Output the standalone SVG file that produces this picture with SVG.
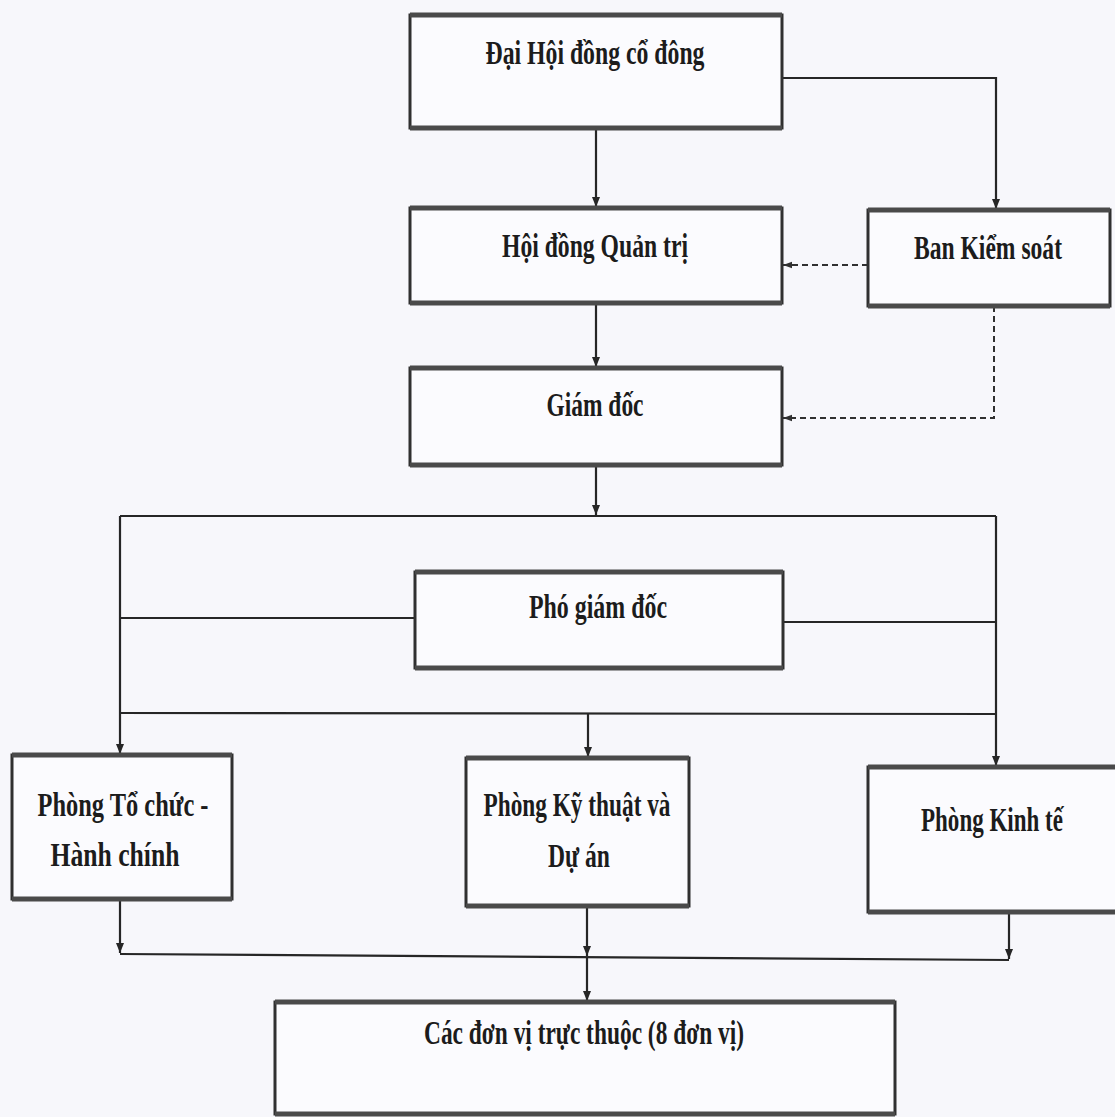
<svg xmlns="http://www.w3.org/2000/svg" width="1115" height="1117" viewBox="0 0 1115 1117">
<defs>
<style>
.box{fill:#fbfbfe;stroke:#303030;stroke-width:3}
.edge{stroke:#4a4a4a;stroke-width:5;fill:none}
.lbl{font-family:"Liberation Serif","Times New Roman",serif;font-weight:bold;font-size:33px;fill:#1c1c1c;text-anchor:middle}
.ln{fill:none;stroke:#262626;stroke-width:2.2}
.dash{fill:none;stroke:#303030;stroke-width:2;stroke-dasharray:6 4}
</style>
<marker id="arr" viewBox="0 0 10 10" refX="10" refY="5" markerWidth="10" markerHeight="10" markerUnits="userSpaceOnUse" orient="auto">
<path d="M0,1 L10,5 L0,9 Z" fill="#262626"/>
</marker>
<marker id="arrd" viewBox="0 0 10 10" refX="10" refY="5" markerWidth="9" markerHeight="9" markerUnits="userSpaceOnUse" orient="auto">
<path d="M0,1.5 L10,5 L0,8.5 Z" fill="#303030"/>
</marker>
</defs>
<rect width="1115" height="1117" fill="#f7f7fb"/>

<g id="connectors">
<path class="ln" d="M596,128 V207" marker-end="url(#arr)"/>
<path class="ln" d="M782,78 H996 V209" marker-end="url(#arr)"/>
<path class="dash" d="M868,265 H783" marker-end="url(#arrd)"/>
<path class="ln" d="M596,303 V367" marker-end="url(#arr)"/>
<path class="dash" d="M994,306 V418 H783" marker-end="url(#arrd)"/>
<path class="ln" d="M596,465 V515" marker-end="url(#arr)"/>
<path class="ln" d="M120,516 H996"/>
<path class="ln" d="M120,516 V754" marker-end="url(#arr)"/>
<path class="ln" d="M996,516 V766" marker-end="url(#arr)"/>
<path class="ln" d="M120,618 H415"/>
<path class="ln" d="M783,622 H996"/>
<path class="ln" d="M120,713 L996,714"/>
<path class="ln" d="M588,714 V757" marker-end="url(#arr)"/>
<path class="ln" d="M120,899 V953" marker-end="url(#arr)"/>
<path class="ln" d="M587,906 V956" marker-end="url(#arr)"/>
<path class="ln" d="M587,957 V1001" marker-end="url(#arr)"/>
<path class="ln" d="M1009,912 V959" marker-end="url(#arr)"/>
<path class="ln" d="M120,954 L1009,960"/>
</g>

<g id="node-dhdcd">
<rect class="box" x="410" y="15" width="372" height="113"/>
<path class="edge" d="M410,15 H782 M410,128 H782"/>
<text class="lbl" x="595" y="64" textLength="219" lengthAdjust="spacingAndGlyphs">Đại Hội đồng cổ đông</text>
</g>

<g id="node-hdqt">
<rect class="box" x="410" y="208" width="372" height="95"/>
<path class="edge" d="M410,208 H782 M410,303 H782"/>
<text class="lbl" x="595" y="257" textLength="186" lengthAdjust="spacingAndGlyphs">Hội đồng Quản trị</text>
</g>

<g id="node-bks">
<rect class="box" x="868" y="210" width="242" height="96"/>
<path class="edge" d="M868,210 H1110 M868,306 H1110"/>
<text class="lbl" x="988" y="259" textLength="148" lengthAdjust="spacingAndGlyphs">Ban Kiểm soát</text>
</g>

<g id="node-gd">
<rect class="box" x="410" y="368" width="372" height="97"/>
<path class="edge" d="M410,368 H782 M410,465 H782"/>
<text class="lbl" x="595" y="416" textLength="97" lengthAdjust="spacingAndGlyphs">Giám đốc</text>
</g>

<g id="node-pgd">
<rect class="box" x="415" y="572" width="368" height="96"/>
<path class="edge" d="M415,572 H783 M415,668 H783"/>
<text class="lbl" x="598" y="618" textLength="138" lengthAdjust="spacingAndGlyphs">Phó giám đốc</text>
</g>

<g id="node-tchc">
<rect class="box" x="12" y="755" width="220" height="144"/>
<path class="edge" d="M12,755 H232 M12,899 H232"/>
<text class="lbl" x="123" y="816" textLength="171" lengthAdjust="spacingAndGlyphs">Phòng Tổ chức -</text>
<text class="lbl" x="115" y="866" textLength="129" lengthAdjust="spacingAndGlyphs">Hành chính</text>
</g>

<g id="node-ktda">
<rect class="box" x="466" y="758" width="223" height="148"/>
<path class="edge" d="M466,758 H689 M466,906 H689"/>
<text class="lbl" x="577" y="816" textLength="187" lengthAdjust="spacingAndGlyphs">Phòng Kỹ thuật và</text>
<text class="lbl" x="579" y="867" textLength="62" lengthAdjust="spacingAndGlyphs">Dự án</text>
</g>

<g id="node-kinhte">
<rect class="box" x="868" y="767" width="250" height="145"/>
<path class="edge" d="M868,767 H1115 M868,912 H1115"/>
<text class="lbl" x="992" y="831" textLength="142" lengthAdjust="spacingAndGlyphs">Phòng Kinh tế</text>
</g>

<g id="node-donvi">
<rect class="box" x="275" y="1002" width="620" height="112"/>
<path class="edge" d="M275,1002 H895 M275,1114 H895"/>
<text class="lbl" x="584" y="1044" textLength="320" lengthAdjust="spacingAndGlyphs">Các đơn vị trực thuộc (8 đơn vị)</text>
</g>
</svg>
